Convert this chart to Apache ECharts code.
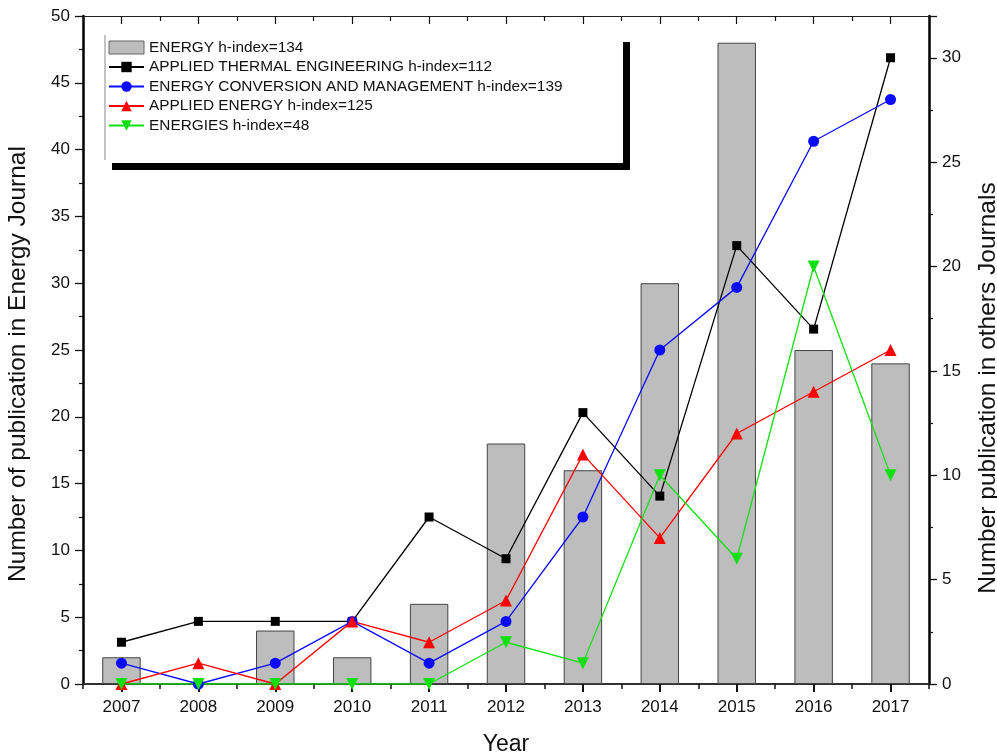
<!DOCTYPE html>
<html>
<head>
<meta charset="utf-8">
<script src="https://cdn.jsdelivr.net/npm/echarts@6/dist/echarts.min.js"></script>
<style>
  html, body { margin: 0; padding: 0; background: #ffffff; }
  #chart { width: 997px; height: 753px; }
</style>
</head>
<body>
<div id="chart"></div>
<script>
// Publication counts per year
const years = ['2007', '2008', '2009', '2010', '2011', '2012', '2013', '2014', '2015', '2016', '2017'];
const energy = [2, 0, 4, 2, 6, 18, 16, 30, 48, 25, 24];
const appliedThermal = [2, 3, 3, 3, 8, 6, 13, 9, 21, 17, 30];
const energyConversion = [1, 0, 1, 3, 1, 3, 8, 16, 19, 26, 28];
const appliedEnergy = [0, 1, 0, 3, 2, 4, 11, 7, 12, 14, 16];
const energies = [0, 0, 0, 0, 0, 2, 1, 10, 6, 20, 10];

const seriesNames = [
  'ENERGY h-index=134',
  'APPLIED THERMAL ENGINEERING h-index=112',
  'ENERGY CONVERSION AND MANAGEMENT h-index=139',
  'APPLIED ENERGY h-index=125',
  'ENERGIES h-index=48'
];

const FONT = 'Liberation Sans, Arial, sans-serif';
const chart = echarts.init(document.getElementById('chart'), null, { renderer: 'canvas' });

const GRID = { left: 83, right: 68, top: 16, bottom: 69, outerBoundsMode: 'none', containLabel: false };

function lineSeries(name, data, color, symbol, size, rotate) {
  return {
    name: name,
    type: 'line',
    xAxisIndex: 0,
    yAxisIndex: 1,
    data: data,
    symbol: symbol,
    symbolSize: size,
    symbolRotate: rotate || 0,
    showAllSymbol: true,
    lineStyle: { color: color, width: 1.3 },
    itemStyle: { color: color, borderWidth: 0 },
    z: 5
  };
}

const legendData = seriesNames.map(function (n, i) {
  return i === 0 ? { name: n, icon: 'rect', itemStyle: { color: '#bdbdbd', borderColor: '#666', borderWidth: 1 } } : { name: n };
});

const option = {
  backgroundColor: '#ffffff',
  animation: false,
  textStyle: { fontFamily: FONT },
  grid: GRID,
  legend: {
    orient: 'vertical',
    left: 103,
    top: 35,
    itemWidth: 35,
    itemHeight: 13,
    itemGap: 4.5,
    textStyle: { fontFamily: FONT, fontSize: 15.4, color: '#111' },
    data: legendData
  },
  xAxis: [
    {
      type: 'category',
      data: years,
      position: 'bottom',
      boundaryGap: true,
      axisLine: { show: true, lineStyle: { color: '#333', width: 2 } },
      axisTick: { show: true, alignWithLabel: true, inside: false, length: 8, lineStyle: { color: '#111', width: 2 } },
      axisLabel: { fontFamily: FONT, fontSize: 17, color: '#111', margin: 15 },
      splitLine: { show: false },
      name: 'Year',
      nameLocation: 'middle',
      nameGap: 49,
      nameTextStyle: { fontFamily: FONT, fontSize: 23, color: '#111' }
    },
    {
      type: 'category',
      data: years,
      position: 'bottom',
      boundaryGap: true,
      axisLine: { show: false },
      axisTick: { show: true, alignWithLabel: false, inside: false, length: 5, lineStyle: { color: '#111', width: 1.5 } },
      axisLabel: { show: false },
      splitLine: { show: false }
    },
    {
      type: 'category',
      data: years,
      position: 'top',
      boundaryGap: true,
      axisLine: { show: true, lineStyle: { color: '#222', width: 1.2 } },
      axisTick: { show: true, alignWithLabel: true, inside: true, length: 8, lineStyle: { color: '#111', width: 1.2 } },
      axisLabel: { show: false },
      splitLine: { show: false }
    },
    {
      type: 'category',
      data: years,
      position: 'top',
      boundaryGap: true,
      axisLine: { show: false },
      axisTick: { show: true, alignWithLabel: false, inside: true, length: 5, lineStyle: { color: '#111', width: 1.2 } },
      axisLabel: { show: false },
      splitLine: { show: false }
    }
  ],
  yAxis: [
    {
      type: 'value',
      position: 'left',
      min: 0,
      max: 50,
      interval: 5,
      axisLine: { show: true, lineStyle: { color: '#000', width: 2.5 } },
      axisTick: { show: true, inside: false, length: 8, lineStyle: { color: '#111', width: 1.3 } },
      minorTick: { show: true, splitNumber: 2, length: 4, lineStyle: { color: '#111', width: 1.2 } },
      axisLabel: { fontFamily: FONT, fontSize: 17, color: '#111', margin: 13 },
      splitLine: { show: false },
      name: 'Number of publication in Energy Journal',
      nameLocation: 'middle',
      nameGap: 52,
      nameTextStyle: { fontFamily: FONT, fontSize: 24.5, color: '#111', padding: [0, 28, 0, 0] }
    },
    {
      type: 'value',
      position: 'right',
      min: 0,
      max: 32,
      interval: 5,
      axisLine: { show: true, lineStyle: { color: '#000', width: 2.5 } },
      axisTick: { show: true, inside: false, length: 8, lineStyle: { color: '#111', width: 1.3 } },
      minorTick: { show: true, splitNumber: 2, length: 4, lineStyle: { color: '#111', width: 1.2 } },
      axisLabel: {
        fontFamily: FONT, fontSize: 17, color: '#111', margin: 13,
        formatter: function (v) { return v > 30 ? '' : String(v); }
      },
      splitLine: { show: false },
      name: 'Number publication in others Journals',
      nameLocation: 'middle',
      nameGap: 47,
      nameRotate: 90,
      nameTextStyle: { fontFamily: FONT, fontSize: 24.5, color: '#111', padding: [0, 76, 0, 0] }
    }
  ],
  series: [
    {
      name: seriesNames[0],
      type: 'bar',
      xAxisIndex: 0,
      yAxisIndex: 0,
      data: energy,
      barWidth: '50%',
      itemStyle: { color: '#bdbdbd', borderColor: '#444', borderWidth: 1 },
      z: 2
    },
    lineSeries(seriesNames[1], appliedThermal, '#000000', 'rect', 9),
    lineSeries(seriesNames[2], energyConversion, '#0a0aff', 'circle', 11),
    lineSeries(seriesNames[3], appliedEnergy, '#ff0000', 'triangle', 12),
    lineSeries(seriesNames[4], energies, '#10e010', 'triangle', 12, 180)
  ],
  graphic: [
    // legend frame: thin left edge and heavy drop shadow
    { type: 'line', shape: { x1: 105, y1: 35, x2: 105, y2: 160 }, style: { stroke: '#888', lineWidth: 1 }, z: 100 },
    { type: 'rect', shape: { x: 623, y: 42, width: 7, height: 128 }, style: { fill: '#000' }, z: 100 },
    { type: 'rect', shape: { x: 112, y: 163, width: 518, height: 7 }, style: { fill: '#000' }, z: 100 }
  ]
};

chart.setOption(option);
</script>
</body>
</html>
